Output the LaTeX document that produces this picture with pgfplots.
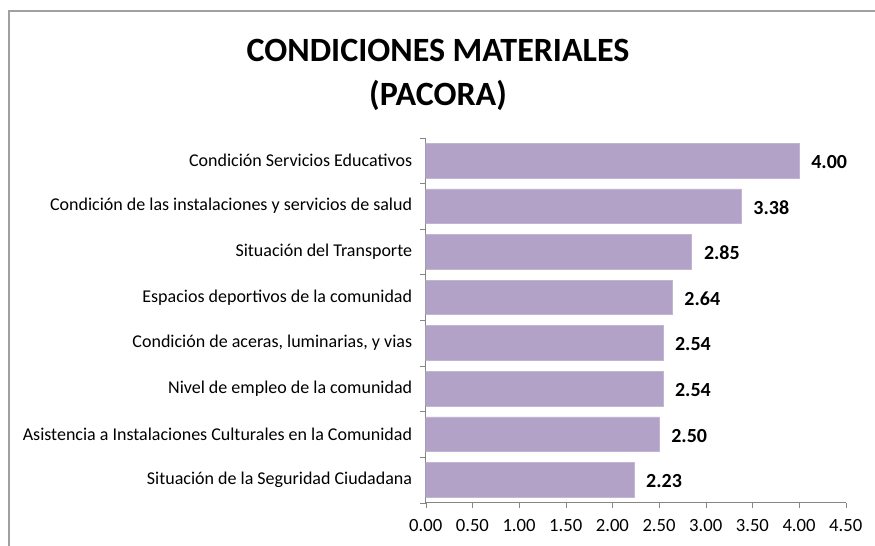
\documentclass[border=0pt]{standalone}
\usepackage{pgfplots}
\pgfplotsset{compat=1.18}
\usepackage{fontspec}
\setmainfont{Carlito}
\definecolor{barfill}{HTML}{B3A2C7}
\definecolor{axisgray}{HTML}{868686}
\definecolor{framegray}{HTML}{A0A0A0}

\begin{document}
\begin{tikzpicture}
\path[use as bounding box] (0,0) rectangle (656.25pt,409.5pt);
\draw[framegray, line width=1.5pt] (6.75pt,0) -- (6.75pt,401.25pt) -- (656.25pt,401.25pt);

\node[anchor=base, font=\fontsize{25.5}{30}\selectfont\bfseries] at (328.5pt,363.5pt) {CONDICIONES MATERIALES};
\node[anchor=base, font=\fontsize{25.5}{30}\selectfont\bfseries] at (328.5pt,330pt) {(PACORA)};

\begin{axis}[
  at={(319.3pt,32.5pt)}, anchor=south west,
  scale only axis, width=315pt, height=273.75pt,
  xbar, bar width=0.76,
  xmin=0, xmax=4.5, ymin=-0.5, ymax=7.5,
  axis x line*=bottom, axis y line*=left,
  axis line style={axisgray},
  xtick={0,0.5,...,4.5},
  xticklabel={\pgfmathprintnumber[fixed,fixed zerofill,precision=2]{\tick}},
  /pgf/number format/assume math mode=true,
  scaled x ticks=false,
  ytick={0,...,7},
  yticklabels={Situación de la Seguridad Ciudadana,
    Asistencia a Instalaciones Culturales en la Comunidad,
    Nivel de empleo de la comunidad,
    {Condición de aceras, luminarias, y vias},
    Espacios deportivos de la comunidad,
    Situación del Transporte,
    Condición de las instalaciones y servicios de salud,
    Condición Servicios Educativos},
  minor ytick={-0.5,0.5,...,7.5},
  tick align=outside,
  major tick length=4pt,
  minor tick length=4pt,
  y tick style={draw=none},
  minor y tick style={draw=axisgray},
  x tick style={axisgray},
  xticklabel style={font=\fontsize{14}{16}\selectfont, inner sep=0pt, yshift=-8pt},
  yticklabel style={font=\fontsize{13.5}{16}\selectfont, inner sep=0pt, xshift=-6pt},
  nodes near coords={\pgfmathprintnumber[fixed,fixed zerofill,precision=2]{\pgfplotspointmeta}},
  nodes near coords style={font=\fontsize{15}{17}\selectfont\bfseries, inner sep=0pt, xshift=9pt, yshift=-1pt},
]
\addplot[fill=barfill, draw=barfill!80!white] coordinates {
  (2.23,0) (2.50,1) (2.54,2) (2.54,3) (2.64,4) (2.85,5) (3.38,6) (4.00,7)
};
\end{axis}
\end{tikzpicture}
\end{document}
